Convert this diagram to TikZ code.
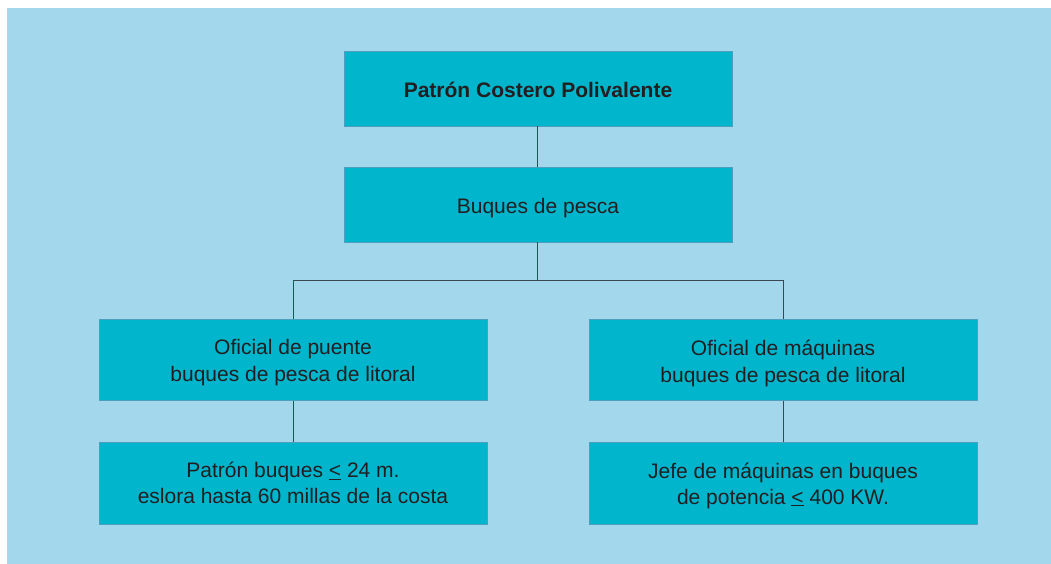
\documentclass[tikz,border=0pt]{standalone}
\usepackage{fontspec}
\setmainfont{Liberation Sans}
\definecolor{bgblue}{HTML}{A3D8EC}
\definecolor{boxfill}{HTML}{00B5CC}
\definecolor{boxline}{HTML}{4E9EC0}
\definecolor{linecol}{HTML}{3C4650}
\definecolor{txt}{HTML}{231F20}
\tikzset{
  orgbox/.style={draw=boxline, line width=0.8pt, fill=boxfill,
    minimum width=388pt, inner sep=0pt},
  boxtext/.style={text=txt, align=center, inner sep=0pt,
    font=\fontsize{21}{26}\selectfont},
  conn/.style={draw=linecol, line width=1pt}
}
\newcommand{\lesseq}{\underline{<}}
\begin{document}
\begin{tikzpicture}[x=1pt,y=-1pt]
\useasboundingbox (0,0) rectangle (1051,564);
\fill[bgblue] (7,8) rectangle (1051,564);
\node[orgbox, minimum height=75pt,
  label={[boxtext, yshift=-1pt, font=\fontsize{21}{26}\selectfont\bfseries]center:Patrón Costero Polivalente}] (top) at (538,88.5) {};
\node[orgbox, minimum height=75pt,
  label={[boxtext, yshift=-3.2pt]center:Buques de pesca}] (buq) at (538,204.5) {};
\node[orgbox, minimum height=81pt,
  label={[boxtext, yshift=-3pt, font=\fontsize{21}{27}\selectfont]center:Oficial de puente\\buques de pesca de litoral}] (ofp) at (293,360) {};
\node[orgbox, minimum height=81pt,
  label={[boxtext, yshift=-3pt, font=\fontsize{21}{27}\selectfont]center:Oficial de máquinas\\buques de pesca de litoral}] (ofm) at (783,360) {};
\node[orgbox, minimum height=82pt,
  label={[boxtext, yshift=-0.3pt]center:Patrón buques \lesseq{} 24 m.\\eslora hasta 60 millas de la costa}] (pat) at (293,483) {};
\node[orgbox, minimum height=82pt,
  label={[boxtext, yshift=-2.5pt]center:Jefe de máquinas en buques\\de potencia \lesseq{} 400 KW.}] (jef) at (783,483) {};
\coordinate (split) at (537,280);
\draw[conn] (top.south -| split) -- (buq.north -| split);
\draw[conn] (buq.south -| split) -- (split);
\draw[conn] (split) -| (ofp.north);
\draw[conn] (split) -| (ofm.north);
\draw[conn] (ofp.south) -- (pat.north);
\draw[conn] (ofm.south) -- (jef.north);
\end{tikzpicture}
\end{document}
